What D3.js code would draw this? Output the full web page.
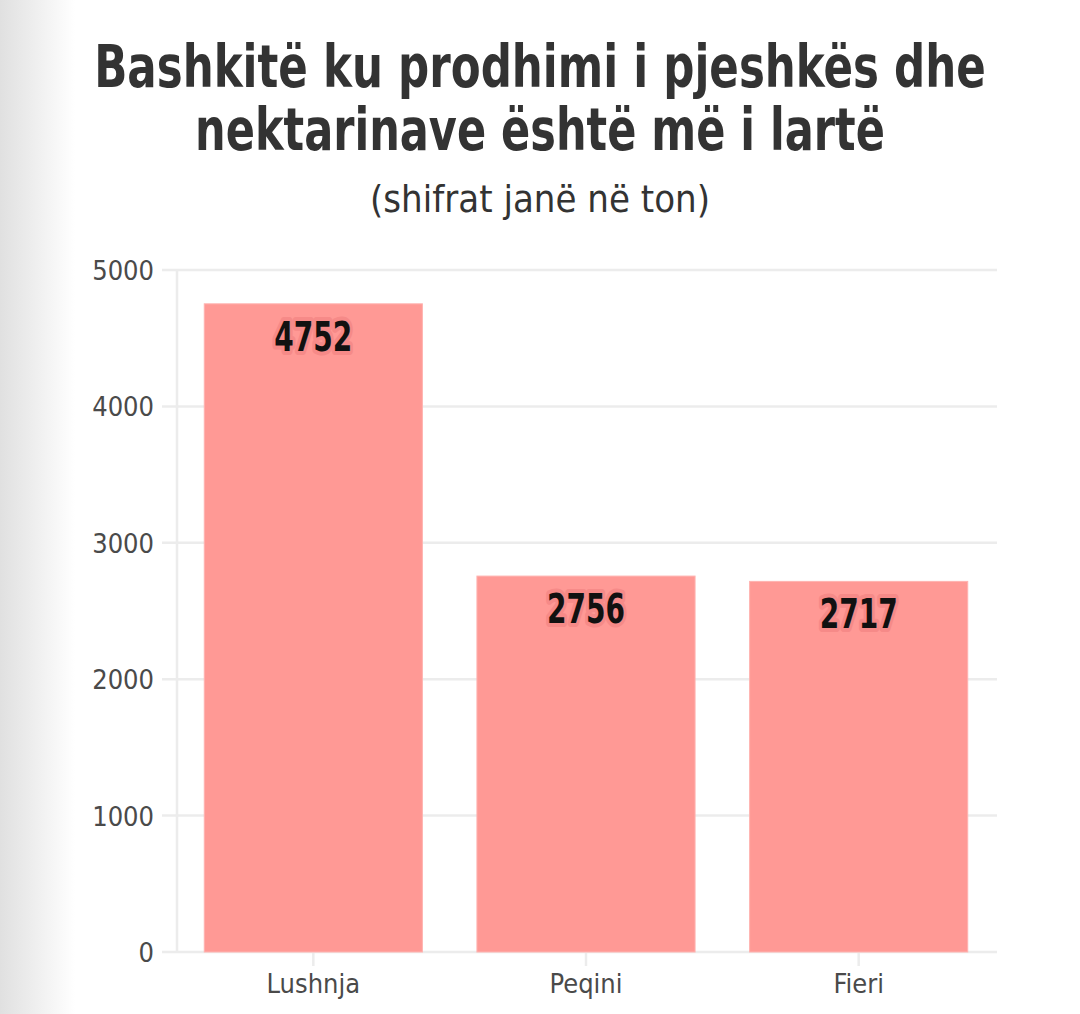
<!DOCTYPE html>
<html>
<head>
<meta charset="utf-8">
<script src="https://cdn.jsdelivr.net/npm/d3@7"></script>
<style>
  html, body { margin: 0; padding: 0; background: #fff; }
  svg { display: block; }
</style>
</head>
<body>
<div id="chart"></div>
<script>
// data
const bashkite = ["Lushnja", "Peqini", "Fieri"];
const prodhimi = [4752, 2756, 2717];
const yTicks = [0, 1000, 2000, 3000, 4000, 5000];
const titleLines = ["Bashkitë ku prodhimi i pjeshkës dhe", "nektarinave është më i lartë"];
const subtitle = "(shifrat janë në ton)";

const width = 1080, height = 1014;
const font = "'DejaVu Sans Condensed', 'Liberation Sans Narrow', sans-serif";

const svg = d3.select("#chart").append("svg")
	.attr("width", width)
	.attr("height", height);

// squeeze a text horizontally round its anchor so it fills the wanted width
function fitWidth(sel, wanted) {
	sel.each(function(d, i) {
		const t = d3.select(this);
		const w = typeof wanted === "function" ? wanted(d, i) : wanted;
		const natural = this.getComputedTextLength();
		const cx = +t.attr("x"), cy = +t.attr("y");
		const k = Math.min(1, w / natural);
		t.attr("transform", `translate(${cx},${cy}) scale(${k},1) translate(${-cx},${-cy})`);
	});
}

// left page shadow
const defs = svg.append("defs");
const grad = defs.append("linearGradient").attr("id", "shade").attr("x1", 0).attr("x2", 1);
grad.append("stop").attr("offset", 0).attr("stop-color", "#e0e0e0");
grad.append("stop").attr("offset", 1).attr("stop-color", "#ffffff");
svg.append("rect").attr("x", 0).attr("y", 0).attr("width", 75).attr("height", height).attr("fill", "url(#shade)");

// titles
svg.append("g")
	.selectAll("text")
	.data(titleLines)
	.join("text")
	.attr("x", 540)
	.attr("y", (d, i) => 87 + i * 63)
	.attr("text-anchor", "middle")
	.style("font-family", font)
	.style("font-weight", "bold")
	.style("font-size", "58px")
	.style("fill", "#333")
	.text(d => d)
	.call(fitWidth, (d, i) => i === 0 ? 892 : 690);

svg.append("text")
	.attr("x", 540)
	.attr("y", 212)
	.attr("text-anchor", "middle")
	.style("font-family", font)
	.style("font-size", "38px")
	.style("fill", "#333")
	.text(subtitle)
	.call(fitWidth, 340);

// scales
const x = d3.scaleBand()
	.domain(bashkite)
	.range([177, 995])
	.paddingInner(0.2)
	.paddingOuter(0.1);

const y = d3.scaleLinear()
	.domain([0, 5000])
	.range([952, 270]);

// grid
svg.append("g")
	.selectAll("line")
	.data(yTicks)
	.join("line")
	.attr("x1", 162)
	.attr("x2", 997)
	.attr("y1", d => y(d))
	.attr("y2", d => y(d))
	.attr("stroke", "#ececec")
	.attr("stroke-width", 2.5);

svg.append("line")
	.attr("x1", 177).attr("x2", 177)
	.attr("y1", y(5000)).attr("y2", y(0))
	.attr("stroke", "#ececec")
	.attr("stroke-width", 2.5);

// y labels
svg.append("g")
	.selectAll("text")
	.data(yTicks)
	.join("text")
	.attr("x", 154)
	.attr("y", d => y(d) + 10)
	.attr("text-anchor", "end")
	.style("font-family", font)
	.style("font-size", "27px")
	.style("fill", "#4a4a4a")
	.text(d => d);

// x ticks and labels
const xg = svg.append("g");
xg.selectAll("line")
	.data(bashkite)
	.join("line")
	.attr("x1", d => x(d) + x.bandwidth() / 2)
	.attr("x2", d => x(d) + x.bandwidth() / 2)
	.attr("y1", y(0))
	.attr("y2", y(0) + 14)
	.attr("stroke", "#ececec")
	.attr("stroke-width", 2.5);

xg.selectAll("text")
	.data(bashkite)
	.join("text")
	.attr("x", d => x(d) + x.bandwidth() / 2)
	.attr("y", 993)
	.attr("text-anchor", "middle")
	.style("font-family", font)
	.style("font-size", "27px")
	.style("fill", "#4a4a4a")
	.text(d => d);

// bars
svg.append("g")
	.selectAll("rect")
	.data(prodhimi)
	.join("rect")
	.attr("x", (d, i) => x(bashkite[i]))
	.attr("width", x.bandwidth())
	.attr("y", d => y(d))
	.attr("height", d => y(0) - y(d))
	.attr("fill", "#ff9995")
	.attr("stroke", "#ffb3b0")
	.attr("stroke-width", 1);

// value labels with halo
svg.append("g")
	.selectAll("text")
	.data(prodhimi)
	.join("text")
	.attr("x", (d, i) => x(bashkite[i]) + x.bandwidth() / 2)
	.attr("y", d => y(d) + 47)
	.attr("text-anchor", "middle")
	.style("font-family", font)
	.style("font-weight", "bold")
	.style("font-size", "41px")
	.style("fill", "#111")
	.style("stroke", "#f68a88")
	.style("stroke-width", "8px")
	.style("stroke-linejoin", "round")
	.style("paint-order", "stroke")
	.text(d => d)
	.call(fitWidth, 78);
</script>
</body>
</html>
